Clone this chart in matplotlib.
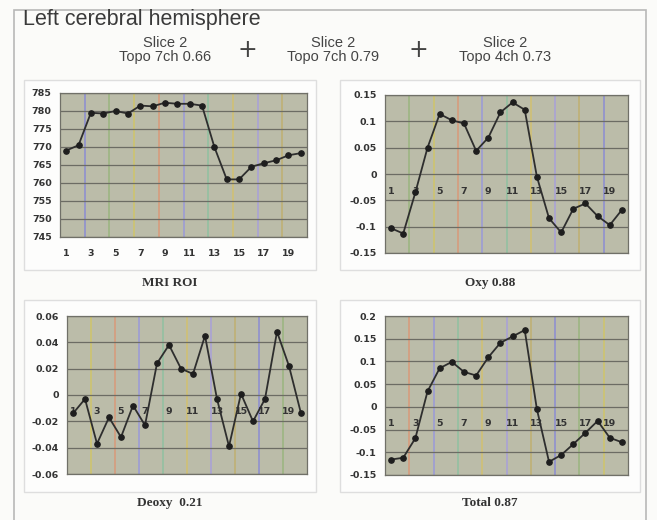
import matplotlib.pyplot as plt
from matplotlib.patches import Rectangle
import numpy as np

x = np.arange(1, 21)

mri = [769, 770.5, 779.5, 779.3, 780, 779.3, 781.5, 781.3, 782.3, 782,
       782, 781.5, 770, 761, 761, 764.5, 765.5, 766.3, 767.7, 768.3]
oxy = [-0.103, -0.113, -0.035, 0.050, 0.114, 0.102, 0.096, 0.044, 0.069, 0.117,
       0.136, 0.122, -0.005, -0.084, -0.111, -0.066, -0.056, -0.080, -0.097, -0.068]
deoxy = [-0.014, -0.003, -0.037, -0.017, -0.032, -0.008, -0.023, 0.024, 0.038, 0.020,
         0.016, 0.045, -0.003, -0.039, 0.001, -0.020, -0.003, 0.048, 0.022, -0.014]
total = [-0.116, -0.112, -0.069, 0.034, 0.085, 0.099, 0.077, 0.069, 0.109, 0.141,
         0.155, 0.169, -0.005, -0.121, -0.106, -0.082, -0.057, -0.031, -0.068, -0.078]

mri_ticks = [745, 750, 755, 760, 765, 770, 775, 780, 785]
oxy_ticks = [-0.15, -0.1, -0.05, 0, 0.05, 0.1, 0.15]
oxy_labels = ['-0.15', '-0.1', '-0.05', '0', '0.05', '0.1', '0.15']
deoxy_ticks = [-0.06, -0.04, -0.02, 0, 0.02, 0.04, 0.06]
deoxy_labels = ['-0.06', '-0.04', '-0.02', '0', '0.02', '0.04', '0.06']
total_ticks = [-0.15, -0.1, -0.05, 0, 0.05, 0.1, 0.15, 0.2]
total_labels = ['-0.15', '-0.1', '-0.05', '0', '0.05', '0.1', '0.15', '0.2']
cat_labels = [str(i) for i in range(1, 20, 2)]

captions = ['MRI ROI', 'Oxy 0.88', 'Deoxy  0.21', 'Total 0.87']
slices = ['Slice 2\nTopo 7ch 0.66', 'Slice 2\nTopo 7ch 0.79', 'Slice 2\nTopo 4ch 0.73']

W, H = 657, 520
fig = plt.figure(figsize=(6.57, 5.2), dpi=100)
fig.patch.set_facecolor('#fbfbf9')

# outer frame
fig.patches.append(Rectangle((14 / W, -0.01), 632 / W, 1 - 10 / H + 0.01,
                             transform=fig.transFigure, fill=False,
                             edgecolor='#b8b8b8', lw=1.2, zorder=-2))
fig.text(23 / W, 1 - 20 / H, 'Left cerebral hemisphere', fontsize=15.5,
         va='center', ha='left', color='#3a3a3a', family='Liberation Sans')
for cx, s in zip([165, 333, 505], slices):
    fig.text(cx / W, 1 - 50 / H, s, fontsize=10.5, ha='center', va='center',
             color='#444444', linespacing=1.0, family='Liberation Sans')
for cx in [247, 418]:
    fig.text(cx / W, 1 - 50 / H, '+', fontsize=17, ha='center', va='center',
             color='#444444')

# panel boxes (x0, y0, x1, y1) in pixels
boxes = [(24, 80, 316, 270), (340, 80, 640, 270), (24, 300, 316, 492), (340, 300, 640, 492)]
for x0, y0, x1, y1 in boxes:
    fig.patches.append(Rectangle((x0 / W, 1 - y1 / H), (x1 - x0) / W, (y1 - y0) / H,
                                 transform=fig.transFigure, facecolor='#fdfdfc',
                                 edgecolor='#dedede', lw=1.0, zorder=-1))

# axes positions in pixels: left, top, right, bottom
pos = [(60, 93, 307, 237), (385, 95, 628, 253), (67, 316, 307, 474), (385, 316, 628, 475)]
series = [mri, oxy, deoxy, total]
ylims = [(745, 785), (-0.15, 0.15), (-0.06, 0.06), (-0.15, 0.2)]
yticks = [mri_ticks, oxy_ticks, deoxy_ticks, total_ticks]
ylabels = [[str(t) for t in mri_ticks], oxy_labels, deoxy_labels, total_labels]
cap_y = [283, 283, 503, 503]
cap_x = [170, 490, 170, 490]
vcolors = ['#8c8cd2', '#9ab57e', '#cfc46a', '#d89a7a', '#9a9ad8', '#8fc0a0',
           '#d2c070', '#a8a0d8', '#c0b070']

for k in range(4):
    l, t, r, b = pos[k]
    ax = fig.add_axes([l / W, 1 - b / H, (r - l) / W, (b - t) / H])
    ax.set_facecolor('#bbbca9')
    ax.set_xlim(0.5, 20.5)
    ax.set_ylim(*ylims[k])
    for i, xv in enumerate(np.arange(2.5, 19, 2)):
        ax.axvline(xv, color=vcolors[(i + k) % len(vcolors)], lw=1.1, zorder=1)
    for yv in yticks[k]:
        ax.axhline(yv, color='#6c6c64', lw=0.9, zorder=1)
    ax.plot(x, series[k], color='#2e2e2e', lw=1.3, marker='o', ms=3.8,
            mfc='#1e1e1e', mec='#1e1e1e', zorder=3)
    ax.set_yticks(yticks[k])
    ax.set_yticklabels(ylabels[k], fontsize=6.8, fontweight='bold', color='#333333')
    ax.tick_params(axis='y', length=0, pad=6)
    for sp in ax.spines.values():
        sp.set_color('#707068')
        sp.set_linewidth(0.9)
    if k == 0:
        ax.set_xticks(range(1, 20, 2))
        ax.set_xticklabels(cat_labels, fontsize=6.8, fontweight='bold', color='#333333')
        ax.tick_params(axis='x', length=0, pad=9)
    else:
        ax.set_xticks([])
        for i, lab in zip(range(1, 20, 2), cat_labels):
            ax.annotate(lab, (i, 0), xytext=(0, -9), textcoords='offset points',
                        ha='center', va='top', fontsize=6.8, fontweight='bold',
                        color='#333333', zorder=2)
    fig.text(cap_x[k] / W, 1 - cap_y[k] / H, captions[k], ha='center', va='center',
             fontsize=9.5, fontweight='bold', family='Liberation Serif', color='#333333')

fig.savefig('out.png', dpi=100, facecolor=fig.get_facecolor())
